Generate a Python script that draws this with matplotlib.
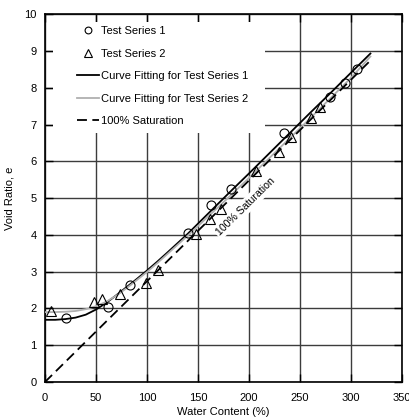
import matplotlib
matplotlib.use("Agg")
import matplotlib.pyplot as plt
from matplotlib.patches import Rectangle

plt.rcParams['font.family'] = ['Liberation Sans', 'DejaVu Sans']

# Measured points
w1 = [21, 62, 83, 140, 163, 182, 234, 279, 294, 306]
e1 = [1.74, 2.04, 2.64, 4.04, 4.81, 5.24, 6.77, 7.75, 8.13, 8.50]

w2 = [6, 48, 56, 74, 99, 111, 148, 162, 173, 207, 229, 241, 261, 270]
e2 = [1.94, 2.17, 2.26, 2.40, 2.69, 3.04, 4.02, 4.42, 4.71, 5.73, 6.26, 6.67, 7.18, 7.48]

# Fitted curves
wf1 = [0, 10, 20, 30, 40, 50, 60, 70, 80, 90, 100, 110, 120, 140, 160, 180,
       200, 220, 240, 260, 280, 300, 319]
ef1 = [1.69, 1.69, 1.71, 1.75, 1.83, 1.97, 2.15, 2.36, 2.58, 2.80, 3.03, 3.27,
       3.52, 4.03, 4.58, 5.13, 5.67, 6.22, 6.77, 7.32, 7.86, 8.41, 8.93]

wf2 = [0, 10, 20, 30, 40, 50, 60, 70, 80, 90, 100, 110, 120, 140, 160, 180,
       200, 220, 240, 260, 280, 300, 319]
ef2 = [1.90, 1.90, 1.91, 1.93, 1.98, 2.06, 2.18, 2.35, 2.55, 2.77, 2.99, 3.23,
       3.48, 3.98, 4.50, 5.02, 5.55, 6.09, 6.63, 7.17, 7.72, 8.27, 8.85]

# 100% saturation line
w_sat = [0, 319]
e_sat = [0, 8.74]

x_ticks = [0, 50, 100, 150, 200, 250, 300, 350]
y_ticks = [0, 1, 2, 3, 4, 5, 6, 7, 8, 9, 10]

FS = 8

fig = plt.figure(figsize=(4.09, 4.17), dpi=100)
ax = fig.add_axes([0.110, 0.084, 0.873, 0.882])

ax.set_xlim(0, 350)
ax.set_ylim(0, 10)
ax.set_xticks(x_ticks)
ax.set_yticks(y_ticks)
ax.grid(True, color='#3c3c3c', lw=1.0)
ax.tick_params(direction='in', length=6, width=1.0, top=True, right=True,
               labelsize=FS, pad=6)
ax.tick_params(axis='x', pad=8)
for s in ax.spines.values():
    s.set_linewidth(1.2)

# white panel behind the legend
ax.add_patch(Rectangle((0.0224, 0.677), 0.594, 0.301, transform=ax.transAxes,
                       facecolor='white', edgecolor='none', zorder=1.6))

ax.plot(w1, e1, 'o', mfc='none', mec='black', ms=6.5, mew=0.8,
        label='Test Series 1', zorder=4)
ax.plot(w2, e2, '^', mfc='none', mec='black', ms=7, mew=0.8,
        label='Test Series 2', zorder=4)
ax.plot(wf1, ef1, color='black', lw=1.3, label='Curve Fitting for Test Series 1', zorder=3)
ax.plot(wf2, ef2, color='#b0b0b0', lw=1.3, label='Curve Fitting for Test Series 2', zorder=3)
ax.plot(w_sat, e_sat, color='black', lw=1.3, linestyle=(0, (5.5, 3.0)),
        label='100% Saturation', zorder=3)

ax.text(197, 4.78, '100% Saturation', rotation=44.5, rotation_mode='anchor',
        ha='center', va='center', fontsize=7.6,
        bbox=dict(facecolor='white', edgecolor='none', pad=1.5), zorder=3.5)

ax.set_xlabel('Water Content (%)', fontsize=FS, labelpad=3)
ax.set_ylabel('Void Ratio, e', fontsize=FS, labelpad=7)

leg = ax.legend(loc='upper left', bbox_to_anchor=(0.0896, 0.967), frameon=False,
                fontsize=FS, handlelength=2.0, handletextpad=0.2,
                labelspacing=1.12, borderpad=0, borderaxespad=0,
                markerscale=0.75)

fig.savefig('out.png', dpi=100)
